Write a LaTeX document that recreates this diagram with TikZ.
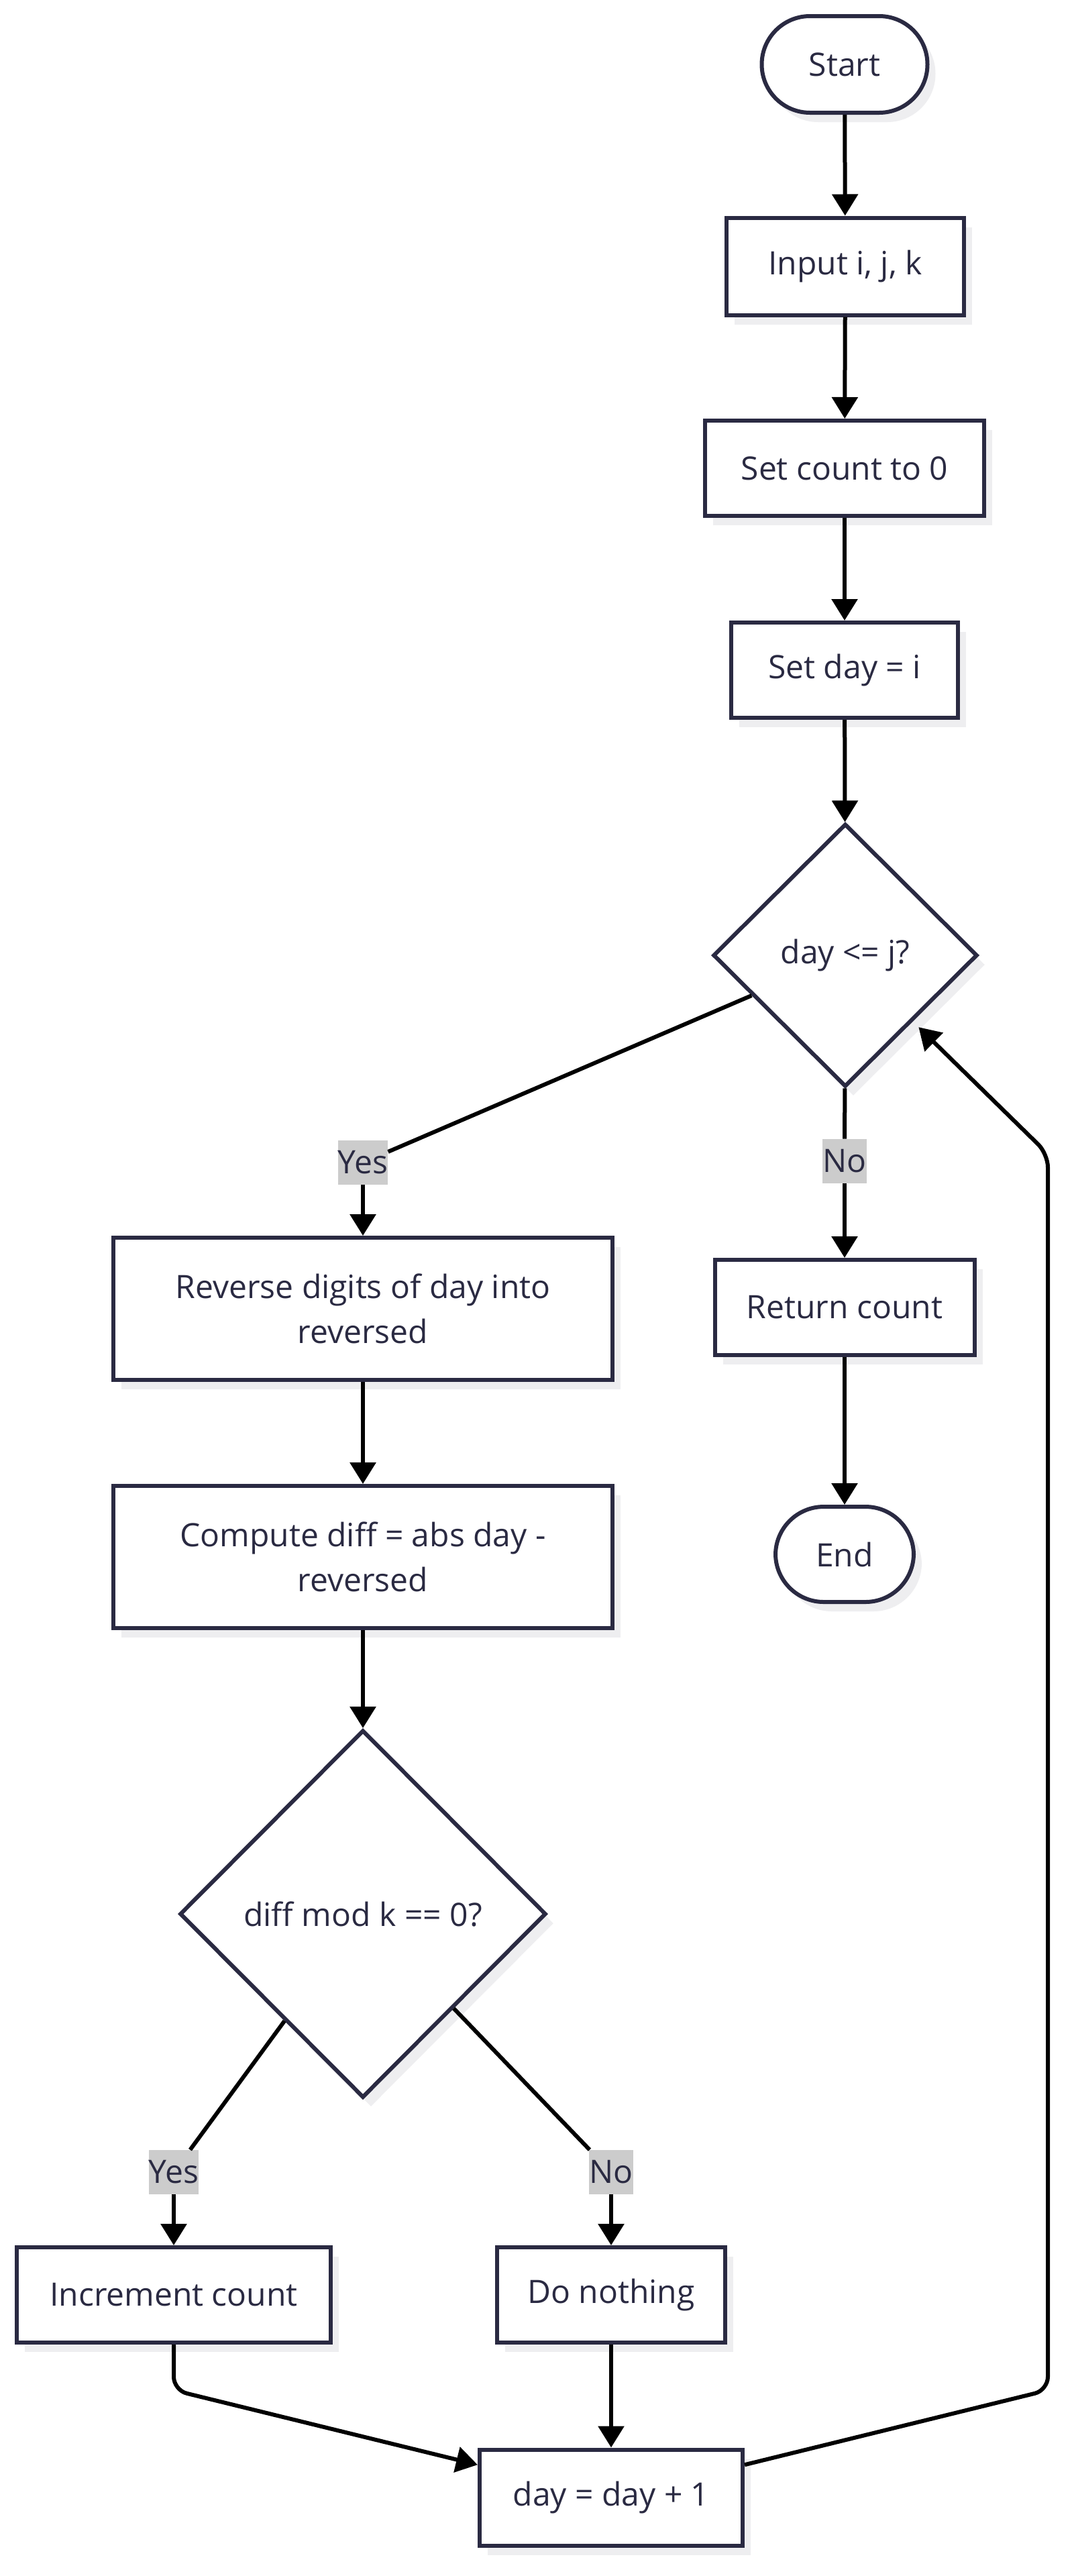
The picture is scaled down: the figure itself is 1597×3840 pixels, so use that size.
\documentclass[tikz,border=0pt]{standalone}
\usepackage{fontspec}
\setmainfont{Open Sans}
\usetikzlibrary{shapes.geometric,shadows,arrows.meta}
\definecolor{ink}{RGB}{42,42,66}
\definecolor{shade}{RGB}{238,238,240}
\definecolor{tagfill}{RGB}{204,204,204}
\tikzset{box/.style = {draw=ink, line width=3pt, fill=white, text=ink, font=\fontsize{24}{33.5}\selectfont, align=center, inner sep=0pt, drop shadow={shadow xshift=6pt, shadow yshift=-7pt, fill=shade, opacity=1}}}
\tikzset{term/.style = {box, rounded corners=36pt}}
\tikzset{decision/.style = {box, diamond, aspect=1}}
\tikzset{tag/.style = {fill=tagfill, text=ink, font=\fontsize{24}{27}\selectfont, inner xsep=0pt, inner ysep=0pt, minimum height=33pt}}
\tikzset{flow/.style = {line width=3pt, -{Triangle[length=16pt,width=19pt]}}}
\tikzset{link/.style = {line width=3pt}}

\begin{document}
\begin{tikzpicture}[x=0.5pt,y=-0.5pt]
	\fill[white] (0,0) rectangle (1597,3840);
	\useasboundingbox (0,0) rectangle (1597,3840);
	\node[term, minimum width=123.5pt, minimum height=72pt] (start) at (1259,96) {Start};
	\node[box, minimum width=177pt, minimum height=72.5pt] (input) at (1260,397) {Input i, j, k};
	\node[box, minimum width=208pt, minimum height=71pt] (setc) at (1259,698) {Set count to 0};
	\node[box, minimum width=169pt, minimum height=71pt] (setd) at (1259,999) {Set day = i};
	\node[decision, minimum width=197pt, minimum height=196pt] (dec1) at (1260,1424) {day <= j?};
	\node[tag] (yes1) at (541,1733) {Yes};
	\node[tag] (no1) at (1259,1731) {No};
	\node[box, minimum width=372pt, minimum height=106pt] (rev) at (541,1951) {Reverse digits of day into\\reversed};
	\node[box, minimum width=193.5pt, minimum height=71pt] (ret) at (1259,1949) {Return count};
	\node[term, minimum width=103pt, minimum height=71pt] (end) at (1259,2317) {End};
	\node[box, minimum width=372pt, minimum height=106pt] (comp) at (541,2321) {Compute diff = abs day -\\reversed};
	\node[decision, minimum width=273pt, minimum height=274pt] (dec2) at (541,2853) {diff mod k == 0?};
	\node[tag] (yes2) at (259,3238) {Yes};
	\node[tag] (no2) at (911,3238) {No};
	\node[box, minimum width=234pt, minimum height=71pt] (inc) at (259,3421) {Increment count};
	\node[box, minimum width=170pt, minimum height=71pt] (noth) at (911,3421) {Do nothing};
	\node[box, minimum width=196pt, minimum height=71.5pt] (day1) at (911,3723) {day = day + 1};

	\draw[flow] (start) -- (input);
	\draw[flow] (input) -- (setc);
	\draw[flow] (setc) -- (setd);
	\draw[flow] (setd) -- (dec1);
	\draw[link] (dec1) -- (yes1);
	\draw[flow] (yes1) -- (rev);
	\draw[link] (dec1) -- (no1);
	\draw[flow] (no1) -- (ret);
	\draw[flow] (ret) -- (end);
	\draw[flow] (rev) -- (comp);
	\draw[flow] (comp) -- (dec2);
	\draw[link] (dec2) -- (yes2);
	\draw[flow] (yes2) -- (inc);
	\draw[link] (dec2) -- (no2);
	\draw[flow] (no2) -- (noth);
	\draw[flow, rounded corners=10pt] (inc.south) -- (259,3563) -- (day1);
	\draw[flow] (noth) -- (day1);
	\draw[flow, rounded corners=10pt, shorten >=6pt] (day1) -- (1562,3563) -- (1562,1720) -- (dec1);
\end{tikzpicture}
\end{document}
